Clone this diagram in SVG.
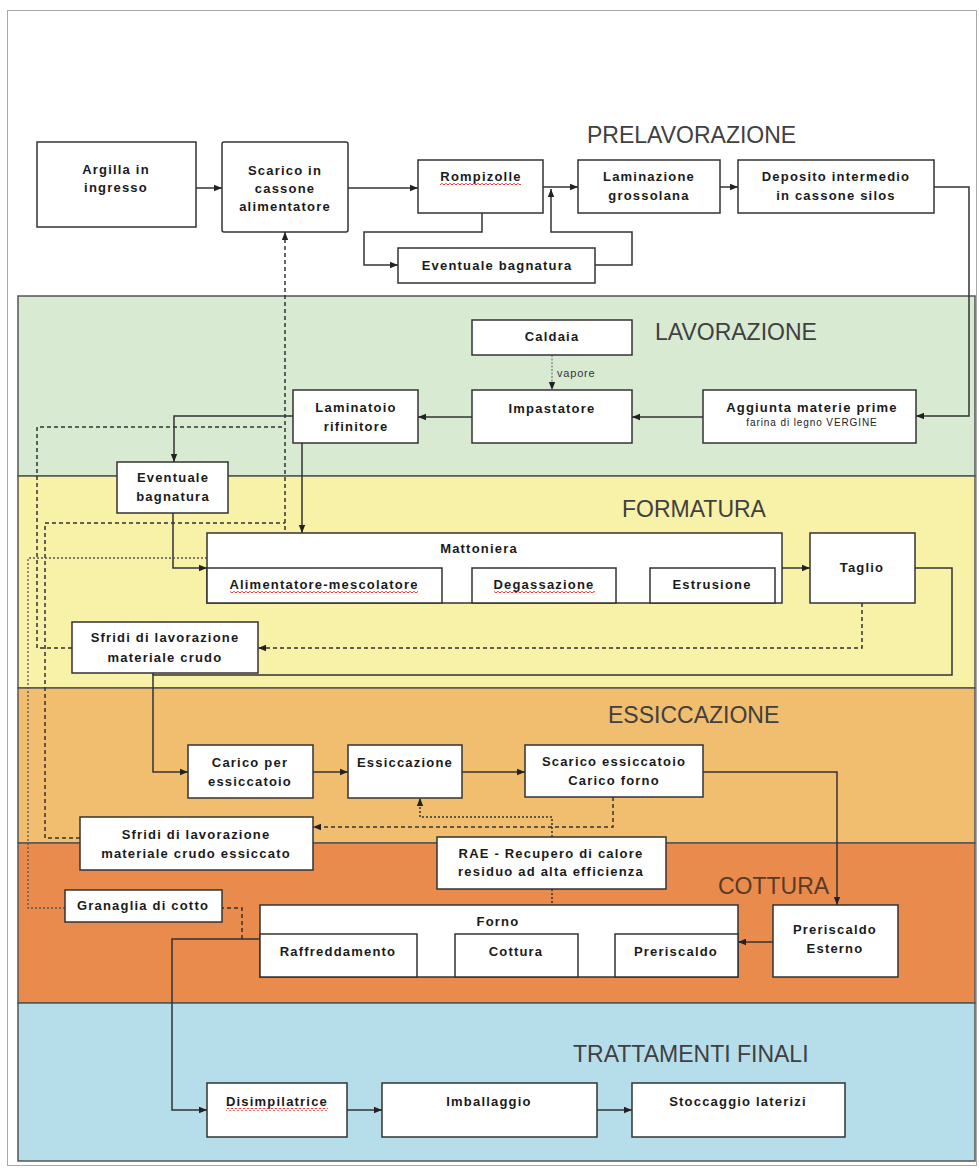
<svg xmlns="http://www.w3.org/2000/svg" width="979" height="1168" viewBox="0 0 979 1168">
<defs>
<style>
.box{fill:#fff;stroke:#333;stroke-width:1.5}
.t{font-family:"Liberation Sans",Arial,sans-serif;font-weight:bold;font-size:13px;letter-spacing:1.2px;fill:#1a1a1a;text-anchor:middle}
.s{font-family:"Liberation Sans",Arial,sans-serif;font-size:10px;letter-spacing:0.9px;fill:#222;text-anchor:middle}
.v{font-family:"Liberation Sans",Arial,sans-serif;font-size:11px;letter-spacing:0.8px;fill:#333}
.title{font-family:"Liberation Sans",Arial,sans-serif;font-size:23px;fill:#404040}
.band{stroke:#555;stroke-width:1.5}
.ln{fill:none;stroke:#333;stroke-width:1.5}
.dash{fill:none;stroke:#333;stroke-width:1.5;stroke-dasharray:4 3}
.dot{fill:none;stroke:#333;stroke-width:1.5;stroke-dasharray:2 2}
.dotl{fill:none;stroke:#555;stroke-width:1.3;stroke-dasharray:2 2}
.vap{fill:none;stroke:#777;stroke-width:1.2;stroke-dasharray:2 1.5}
.sq{fill:url(#wave)}
</style>
<marker id="ah" viewBox="0 0 10 10" refX="10" refY="5" markerWidth="8" markerHeight="8" markerUnits="userSpaceOnUse" orient="auto"><path d="M0,1 L10,5 L0,9 z" fill="#222"/></marker>
<pattern id="wave" width="4" height="3" patternUnits="userSpaceOnUse"><path d="M0,2 L1,1 L2,0.5 L3,1 L4,2" fill="none" stroke="#d33" stroke-width="0.9"/></pattern>
</defs>

<rect x="7.5" y="10.5" width="969" height="1155" fill="#fff" stroke="#aaa" stroke-width="1"/>

<g id="bands">
<rect class="band" x="18" y="296" width="957" height="180" fill="#d9ead3"/>
<rect class="band" x="18" y="476" width="957" height="212" fill="#f7f2a8"/>
<rect class="band" x="18" y="688" width="957" height="155" fill="#f1bd6e"/>
<rect class="band" x="18" y="843" width="957" height="160" fill="#e98b4d"/>
<rect class="band" x="18" y="1003" width="957" height="158" fill="#b6deea"/>
</g>

<g id="titles">
<text class="title" x="587" y="143">PRELAVORAZIONE</text>
<text class="title" x="655" y="340">LAVORAZIONE</text>
<text class="title" x="622" y="517">FORMATURA</text>
<text class="title" x="608" y="723">ESSICCAZIONE</text>
<text class="title" x="718" y="894" style="fill:#5a3a26">COTTURA</text>
<text class="title" x="573" y="1062">TRATTAMENTI FINALI</text>
</g>

<g id="connectors">
<path class="ln" d="M196,188 H222" marker-end="url(#ah)"/>
<path class="ln" d="M348,188 H418" marker-end="url(#ah)"/>
<path class="ln" d="M482,213 V232 H364 V265 H398" marker-end="url(#ah)"/>
<path class="ln" d="M595,265 H632 V232 H551 V189" marker-end="url(#ah)"/>
<path class="ln" d="M543,187 H578" marker-end="url(#ah)"/>
<path class="ln" d="M720,187 H738" marker-end="url(#ah)"/>
<path class="ln" d="M934,187 H969 V416 H916" marker-end="url(#ah)"/>
<path class="vap" d="M552,355 V390" marker-end="url(#ah)"/>
<text class="v" x="557" y="377">vapore</text>
<path class="ln" d="M703,417 H632" marker-end="url(#ah)"/>
<path class="ln" d="M472,417 H418" marker-end="url(#ah)"/>
<path class="ln" d="M293,416 H174 V462" marker-end="url(#ah)"/>
<path class="ln" d="M302,443 V533" marker-end="url(#ah)"/>
<path class="ln" d="M173,513 V568 H207" marker-end="url(#ah)"/>
<path class="ln" d="M442,585 H472" marker-end="url(#ah)"/>
<path class="ln" d="M616,585 H650" marker-end="url(#ah)"/>
<path class="ln" d="M782,568 H810" marker-end="url(#ah)"/>
<path class="ln" d="M915,568 H952 V675 H153 V772 H188" marker-end="url(#ah)"/>
<path class="ln" d="M153,673 V675"/>
<path class="ln" d="M313,772 H348" marker-end="url(#ah)"/>
<path class="ln" d="M462,772 H525" marker-end="url(#ah)"/>
<path class="ln" d="M703,772 H837 V905" marker-end="url(#ah)"/>
<path class="ln" d="M773,942 H738" marker-end="url(#ah)"/>
<path class="ln" d="M615,956 H578" marker-end="url(#ah)"/>
<path class="ln" d="M455,960 H417" marker-end="url(#ah)"/>
<path class="ln" d="M260,939 H172 V1110 H207" marker-end="url(#ah)"/>
<path class="ln" d="M347,1110 H382" marker-end="url(#ah)"/>
<path class="ln" d="M597,1110 H632" marker-end="url(#ah)"/>

<path class="dash" d="M862,603 V648 H258" marker-end="url(#ah)"/>
<path class="dash" d="M613,797 V827 H313" marker-end="url(#ah)"/>
<path class="dash" d="M72,648 H37 V427 H285"/>
<path class="dash" d="M80,838 H45 V523 H285"/>
<path class="dotl" d="M65,908 H28 V558 H285"/>
<path class="dash" d="M285,558 V232" marker-end="url(#ah)"/>
<path class="dash" d="M242,939 V908 H222"/>
<path class="dot" d="M552,837 V817 H420 V798" marker-end="url(#ah)"/>
<path class="dot" d="M552,889 V908 H339 V934"/>
</g>

<g id="n-argilla"><rect class="box" x="37" y="142" width="159" height="85"/>
<text class="t" x="116" y="174">Argilla in</text><text class="t" x="116" y="192">ingresso</text></g>
<g id="n-scarico"><rect class="box" x="222" y="142" width="126" height="90" rx="2"/>
<text class="t" x="285" y="175">Scarico in</text><text class="t" x="285" y="193">cassone</text><text class="t" x="285" y="211">alimentatore</text></g>
<g id="n-rompizolle"><rect class="box" x="418" y="160" width="125" height="53"/>
<text class="t" x="481" y="181">Rompizolle</text><rect class="sq" x="440" y="183" width="81" height="3"/></g>
<g id="n-bagnatura1"><rect class="box" x="398" y="248" width="197" height="35"/>
<text class="t" x="497" y="270">Eventuale bagnatura</text></g>
<g id="n-laminazione"><rect class="box" x="578" y="160" width="142" height="53"/>
<text class="t" x="649" y="181">Laminazione</text><text class="t" x="649" y="200">grossolana</text></g>
<g id="n-deposito"><rect class="box" x="738" y="160" width="196" height="53"/>
<text class="t" x="836" y="181">Deposito intermedio</text><text class="t" x="836" y="200">in cassone silos</text></g>

<g id="n-caldaia"><rect class="box" x="472" y="320" width="160" height="35"/>
<text class="t" x="552" y="341">Caldaia</text></g>
<g id="n-impastatore"><rect class="box" x="472" y="390" width="160" height="53"/>
<text class="t" x="552" y="413">Impastatore</text></g>
<g id="n-aggiunta"><rect class="box" x="703" y="390" width="213" height="53"/>
<text class="t" x="812" y="412">Aggiunta materie prime</text><text class="s" x="812" y="426">farina di legno VERGINE</text></g>
<g id="n-laminatoio"><rect class="box" x="293" y="390" width="125" height="53"/>
<text class="t" x="356" y="412">Laminatoio</text><text class="t" x="356" y="431">rifinitore</text></g>

<g id="n-bagnatura2"><rect class="box" x="117" y="462" width="111" height="51"/>
<text class="t" x="173" y="482">Eventuale</text><text class="t" x="173" y="501">bagnatura</text></g>
<g id="n-mattoniera"><rect class="box" x="207" y="533" width="575" height="70"/>
<text class="t" x="479" y="553">Mattoniera</text>
<rect class="box" x="207" y="568" width="235" height="35"/>
<text class="t" x="324" y="589">Alimentatore-mescolatore</text><rect class="sq" x="230" y="591" width="188" height="3"/>
<rect class="box" x="472" y="568" width="144" height="35"/>
<text class="t" x="544" y="589">Degassazione</text><rect class="sq" x="494" y="591" width="101" height="3"/>
<rect class="box" x="650" y="568" width="125" height="35"/>
<text class="t" x="712" y="589">Estrusione</text></g>
<g id="n-taglio"><rect class="box" x="810" y="533" width="105" height="70"/>
<text class="t" x="862" y="572">Taglio</text></g>
<g id="n-sfridi-crudo"><rect class="box" x="72" y="622" width="186" height="51"/>
<text class="t" x="165" y="642">Sfridi di lavorazione</text><text class="t" x="165" y="662">materiale crudo</text></g>

<g id="n-carico"><rect class="box" x="188" y="745" width="125" height="53"/>
<text class="t" x="250" y="767">Carico per</text><text class="t" x="250" y="786">essiccatoio</text></g>
<g id="n-essiccazione"><rect class="box" x="348" y="745" width="114" height="53"/>
<text class="t" x="405" y="767">Essiccazione</text></g>
<g id="n-scarico-ess"><rect class="box" x="525" y="745" width="178" height="52"/>
<text class="t" x="614" y="766">Scarico essiccatoio</text><text class="t" x="614" y="785">Carico forno</text></g>
<g id="n-sfridi-ess"><rect class="box" x="80" y="817" width="233" height="53"/>
<text class="t" x="196" y="839">Sfridi di lavorazione</text><text class="t" x="196" y="858">materiale crudo essiccato</text></g>

<g id="n-rae"><rect class="box" x="437" y="837" width="229" height="52"/>
<text class="t" x="551" y="858">RAE - Recupero di calore</text><text class="t" x="551" y="876">residuo ad alta efficienza</text></g>
<g id="n-granaglia"><rect class="box" x="65" y="890" width="157" height="32"/>
<text class="t" x="143" y="910">Granaglia di cotto</text></g>
<g id="n-forno"><rect class="box" x="260" y="905" width="478" height="72"/>
<text class="t" x="498" y="926">Forno</text>
<rect class="box" x="260" y="934" width="157" height="43"/>
<text class="t" x="338" y="956">Raffreddamento</text>
<rect class="box" x="455" y="934" width="123" height="43"/>
<text class="t" x="516" y="956">Cottura</text>
<rect class="box" x="615" y="934" width="123" height="43"/>
<text class="t" x="676" y="956">Preriscaldo</text></g>
<g id="n-preriscaldo-est"><rect class="box" x="773" y="905" width="125" height="72"/>
<text class="t" x="835" y="934">Preriscaldo</text><text class="t" x="835" y="953">Esterno</text></g>

<g id="n-disimpilatrice"><rect class="box" x="207" y="1083" width="140" height="54"/>
<text class="t" x="277" y="1106">Disimpilatrice</text><rect class="sq" x="226" y="1108" width="102" height="3"/></g>
<g id="n-imballaggio"><rect class="box" x="382" y="1083" width="215" height="54"/>
<text class="t" x="489" y="1106">Imballaggio</text></g>
<g id="n-stoccaggio"><rect class="box" x="632" y="1083" width="213" height="54"/>
<text class="t" x="738" y="1106">Stoccaggio laterizi</text></g>
</svg>
